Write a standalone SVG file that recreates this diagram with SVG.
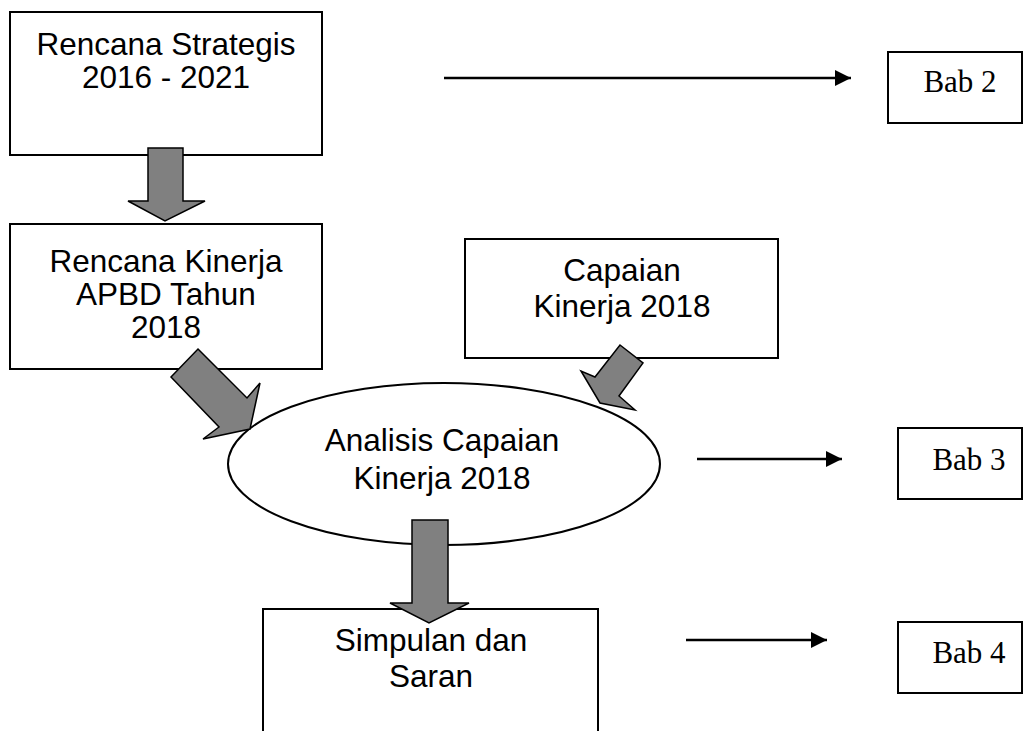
<svg xmlns="http://www.w3.org/2000/svg" width="1034" height="731" viewBox="0 0 1034 731">
<defs>
<style>
.box{fill:#fff;stroke:#000;stroke-width:2}
.t{font-family:"Liberation Sans",Arial,sans-serif;font-size:31.5px;fill:#000;text-anchor:middle}
.b{font-family:"Liberation Serif","Times New Roman",serif;font-size:31px;fill:#000;text-anchor:middle}
.blk{fill:#808080;stroke:#000;stroke-width:1.5;stroke-linejoin:miter}
.ln{stroke:#000;stroke-width:2.5;fill:none}
</style>
<marker id="ah" viewBox="0 0 10 10" refX="10" refY="5" markerWidth="6.5" markerHeight="6.5" markerUnits="strokeWidth" orient="auto">
<path d="M0,0 L10,5 L0,10 z" fill="#000"/>
</marker>
</defs>
<rect width="1034" height="731" fill="#fff"/>
<g id="node-renstra">
<rect class="box" x="10" y="12" width="312" height="143"/>
<text class="t" x="166" y="55">Rencana Strategis</text>
<text class="t" x="166" y="88">2016 - 2021</text>
</g>
<g id="node-renkin">
<rect class="box" x="10" y="224" width="312" height="145"/>
<text class="t" x="166" y="272">Rencana Kinerja</text>
<text class="t" x="166" y="305">APBD Tahun</text>
<text class="t" x="166" y="338">2018</text>
</g>
<g id="node-capaian">
<rect class="box" x="465" y="239" width="313" height="119"/>
<text class="t" x="622" y="281">Capaian</text>
<text class="t" x="622" y="317">Kinerja 2018</text>
</g>
<g id="node-analisis">
<ellipse class="box" cx="444" cy="464" rx="216" ry="81"/>
<text class="t" x="442" y="451">Analisis Capaian</text>
<text class="t" x="442" y="489">Kinerja 2018</text>
</g>
<g id="node-simpulan">
<rect class="box" x="263" y="609" width="335" height="140"/>
<text class="t" x="431" y="651">Simpulan dan</text>
<text class="t" x="431" y="687">Saran</text>
</g>
<g id="node-bab2">
<rect class="box" x="888" y="52" width="134" height="71"/>
<text class="b" x="960" y="92">Bab 2</text>
</g>
<g id="node-bab3">
<rect class="box" x="898" y="428" width="124" height="71"/>
<text class="b" x="969" y="470">Bab 3</text>
</g>
<g id="node-bab4">
<rect class="box" x="898" y="622" width="124" height="71"/>
<text class="b" x="969" y="663">Bab 4</text>
</g>
<g id="connectors">
<polygon class="blk" points="148,148 183,148 183,201 205,201 165,221 128,201 148,201"/>
<polygon class="blk" points="198,349 247,398 260,383 250,429 203,439 219,427 171,377"/>
<polygon class="blk" points="620,345 643,363 619,396 635,410 600,403 581,371 595,377"/>
<polygon class="blk" points="412,520 448,520 448,603 469,603 429,623 390,603 412,603"/>
<line class="ln" x1="444" y1="78" x2="851" y2="78" marker-end="url(#ah)"/>
<line class="ln" x1="697" y1="459" x2="842" y2="459" marker-end="url(#ah)"/>
<line class="ln" x1="686" y1="640" x2="827" y2="640" marker-end="url(#ah)"/>
</g>
</svg>
